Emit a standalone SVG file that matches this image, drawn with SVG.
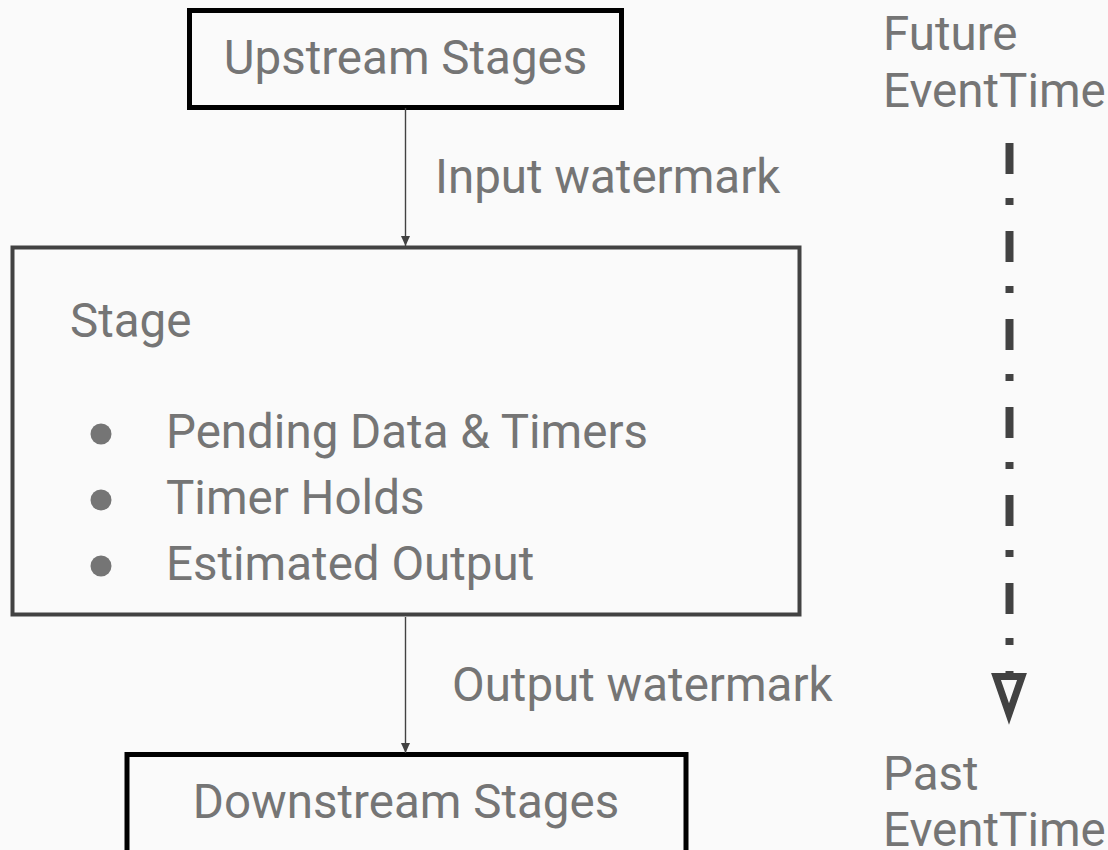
<svg xmlns="http://www.w3.org/2000/svg" width="1108" height="850" viewBox="0 0 1108 850">
  <style>
    .t { font-family: Roboto, "Liberation Sans", sans-serif; font-size: 47.5px; fill: #757575; }
    .box { fill: none; stroke: #000000; stroke-width: 5; }
    .stage { fill: none; stroke: #424242; stroke-width: 4; }
    .conn { stroke: #424242; stroke-width: 1.4; fill: none; }
  </style>
  <defs>
    <marker id="arr" markerUnits="userSpaceOnUse" markerWidth="10" markerHeight="11" refX="10" refY="5" orient="auto">
      <path d="M0,0.5 L10,5 L0,9.5 Z" fill="#424242"/>
    </marker>
  </defs>
  <rect width="1108" height="850" fill="#fafafa"/>

  <g id="upstream">
    <rect class="box" x="189.5" y="10.5" width="432" height="97"/>
    <text class="t" x="405.5" y="74" text-anchor="middle">Upstream Stages</text>
  </g>

  <g id="stage">
    <rect class="stage" x="12.5" y="247.5" width="787" height="367"/>
    <text class="t" x="70" y="337">Stage</text>
    <circle cx="101" cy="434" r="10.5" fill="#757575"/>
    <circle cx="101" cy="500" r="10.5" fill="#757575"/>
    <circle cx="101" cy="566" r="10.5" fill="#757575"/>
    <text class="t" x="166" y="448">Pending Data &amp; Timers</text>
    <text class="t" x="166" y="514">Timer Holds</text>
    <text class="t" x="166" y="580">Estimated Output</text>
  </g>

  <g id="downstream">
    <rect class="box" x="127" y="754.5" width="559" height="110"/>
    <text class="t" x="406" y="818" text-anchor="middle">Downstream Stages</text>
  </g>

  <g id="time-axis">
    <text class="t" x="883" y="50">Future</text>
    <text class="t" x="883" y="107">EventTime</text>
    <line x1="1009.5" y1="143" x2="1009.5" y2="673" stroke="#424242" stroke-width="8" stroke-dasharray="31 24 7 26"/>
    <path d="M996,676.5 L1022,676.5 L1009,714 Z" fill="none" stroke="#424242" stroke-width="7" stroke-linejoin="miter" stroke-miterlimit="10"/>
    <text class="t" x="883" y="790">Past</text>
    <text class="t" x="883" y="846">EventTime</text>
  </g>

  <g id="connectors">
    <line class="conn" x1="405.5" y1="108" x2="405.5" y2="246" marker-end="url(#arr)"/>
    <text class="t" x="435" y="193">Input watermark</text>
    <line class="conn" x1="405.5" y1="617" x2="405.5" y2="753" marker-end="url(#arr)"/>
    <text class="t" x="452" y="701">Output watermark</text>
  </g>
</svg>
